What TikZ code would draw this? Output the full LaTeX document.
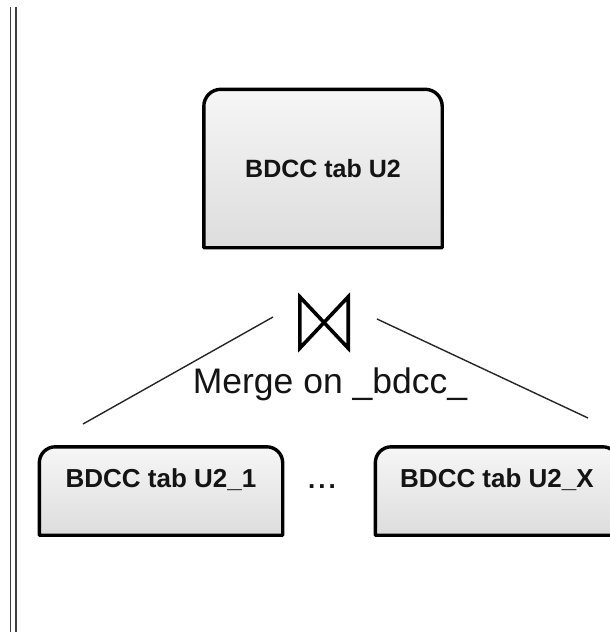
\documentclass[tikz,border=0pt]{standalone}
\usepackage{fontspec}
\setmainfont{Liberation Sans}
\definecolor{boxtop}{HTML}{F6F6F6}
\definecolor{boxbot}{HTML}{DDDDDD}
\definecolor{txt}{HTML}{141414}
\newcommand\drawtab[2]{%
  \path[tabshape] (#1.south west) -- ([yshift=-#2]#1.north west)
    arc[start angle=180,end angle=90,radius=#2]
    -- ([xshift=-#2]#1.north east)
    arc[start angle=90,end angle=0,radius=#2]
    -- (#1.south east) -- cycle;}
\begin{document}
\begin{tikzpicture}[x=1pt,y=-1pt,
  tab/.style={inner sep=0pt, text=txt},
  tabshape/.style={draw=black, line width=3.4pt, top color=boxtop, bottom color=boxbot, line join=round},
  link/.style={draw=black!85, line width=1.4pt},
  rule/.style={draw=black!75, line width=1.6pt},
  bigbold/.style={font=\fontsize{25}{30}\selectfont\bfseries},
  smallbold/.style={font=\fontsize{26}{30}\selectfont\bfseries, text height=19pt, text depth=27pt},
]
\useasboundingbox (0,0) rectangle (610,632);
\clip (0,0) rectangle (610,632);
% left double rule
\draw[rule] (10.5,7) -- (10.5,632);
\draw[rule] (15.8,7) -- (15.8,632);
% boxes
\node[tab, minimum width=238pt, minimum height=158pt] (top) at (323,168.5) {};
\drawtab{top}{17pt}
\node[tab, bigbold] (toplbl) at (top.center) {BDCC tab U2};
\node[tab, minimum width=243pt, minimum height=88pt] (u1) at (161,491) {};
\drawtab{u1}{16pt}
\node[tab, smallbold] (u1lbl) at (u1.center) {BDCC tab U2\_1};
\node[tab, minimum width=243pt, minimum height=88pt] (ux) at (497,491) {};
\drawtab{ux}{16pt}
\node[tab, smallbold] (uxlbl) at (ux.center) {BDCC tab U2\_X};
\node[tab, font=\fontsize{26}{30}\selectfont\bfseries, anchor=base] (dots) at (322,488) {.\kern3pt.\kern3pt.};
% join symbol
\node[inner sep=0pt, minimum width=48pt, minimum height=51pt] (join) at (324,322.5) {};
\draw[line width=3.6pt, line join=miter] (join.north west) -- (join.south east) -- (join.north east) -- (join.south west) -- cycle;
% merge label
\node[anchor=base, font=\fontsize{35.5}{40}\selectfont, text=txt, inner sep=0pt] (merge) at (330,393) {Merge on \_bdcc\_};
% connectors
\coordinate (jl) at (273,317);
\coordinate (jr) at (377,319);
\coordinate (ml) at (83,424);
\coordinate (mr) at (588,418);
\draw[link] (jl) -- (ml);
\draw[link] (jr) -- (mr);
\end{tikzpicture}
\end{document}
